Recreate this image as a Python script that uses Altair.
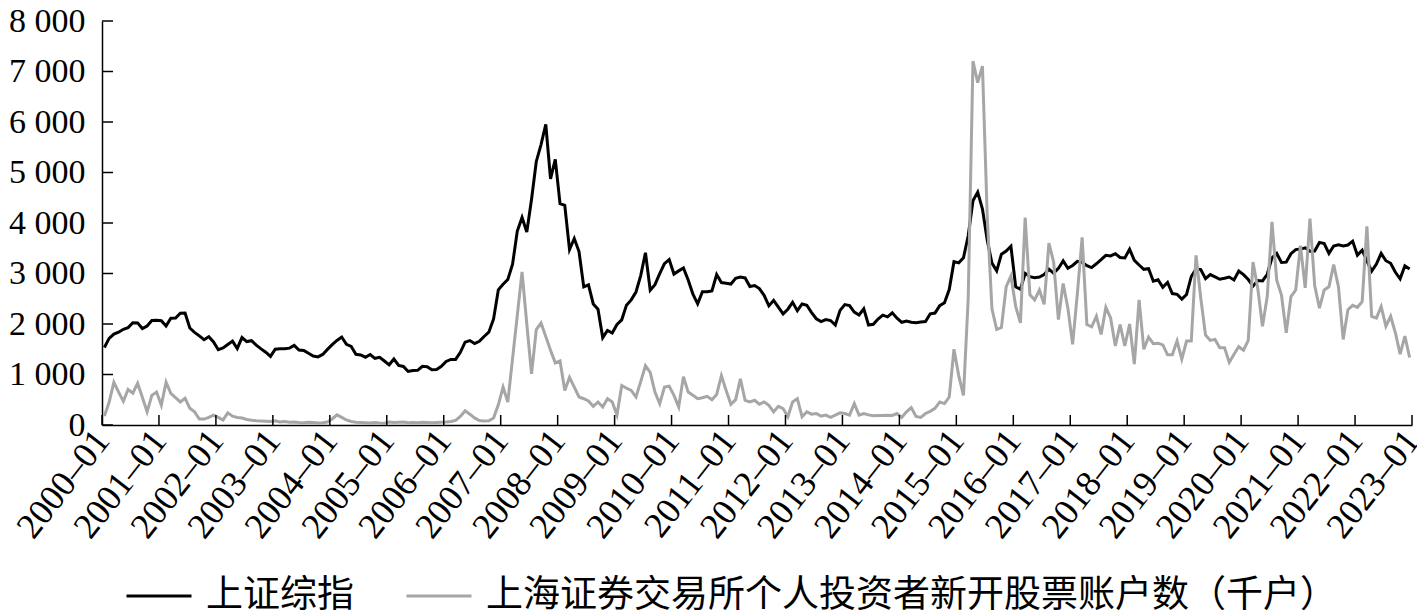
import altair as alt
import pandas as pd

# ---------------- data (monthly, 2000-01 .. 2022-12) ----------------
years = list(range(2000, 2023))
months = [f"{y}-{m:02d}" for y in years for m in range(1, 13)]

# 上证综指 (monthly close)
sse = [
    1535.0, 1714.6, 1800.2, 1836.3, 1894.5, 1928.1, 2023.5, 2021.7, 1910.2, 1961.3, 2070.6, 2073.5,
    2066.0, 1959.2, 2112.8, 2119.2, 2214.3, 2218.0, 1920.3, 1834.1, 1764.5, 1689.9, 1747.1, 1646.0,
    1491.6, 1524.7, 1593.4, 1661.9, 1515.7, 1732.8, 1651.6, 1669.6, 1581.7, 1507.5, 1441.6, 1357.7,
    1499.8, 1511.9, 1510.6, 1521.4, 1576.3, 1486.0, 1476.7, 1421.0, 1367.2, 1348.3, 1397.2, 1497.0,
    1590.7, 1675.1, 1741.6, 1595.6, 1555.9, 1399.2, 1386.2, 1342.1, 1396.7, 1320.5, 1340.8, 1266.5,
    1191.8, 1306.0, 1181.2, 1159.2, 1060.7, 1080.9, 1083.0, 1162.8, 1155.6, 1092.8, 1099.3, 1161.1,
    1258.0, 1299.0, 1298.3, 1440.2, 1641.3, 1672.2, 1612.7, 1658.6, 1752.4, 1837.9, 2099.3, 2675.5,
    2786.3, 2881.1, 3184.0, 3841.3, 4109.7, 3820.7, 4471.0, 5218.8, 5552.3, 5954.8, 4871.8, 5261.6,
    4383.4, 4348.5, 3472.7, 3693.1, 3433.4, 2736.1, 2775.7, 2397.4, 2293.8, 1728.8, 1871.2, 1820.8,
    1990.7, 2082.9, 2373.2, 2477.6, 2632.9, 2959.4, 3412.1, 2667.7, 2779.4, 2995.9, 3195.3, 3277.1,
    2989.3, 3051.9, 3109.1, 2870.6, 2592.2, 2398.4, 2637.5, 2638.8, 2655.7, 2978.8, 2820.2, 2808.1,
    2790.7, 2905.1, 2928.1, 2911.5, 2743.5, 2762.1, 2701.7, 2567.3, 2359.2, 2468.3, 2333.4, 2199.4,
    2292.6, 2428.5, 2262.8, 2396.3, 2372.2, 2225.4, 2103.6, 2047.5, 2086.2, 2068.9, 1980.1, 2269.1,
    2385.4, 2365.6, 2236.6, 2177.9, 2300.6, 1979.2, 1993.8, 2098.4, 2174.7, 2141.6, 2220.5, 2116.0,
    2033.1, 2056.3, 2033.3, 2026.4, 2039.2, 2048.3, 2201.6, 2217.2, 2363.9, 2420.2, 2682.8, 3234.7,
    3210.4, 3310.3, 3747.9, 4441.7, 4611.7, 4277.2, 3663.7, 3206.0, 3052.8, 3382.6, 3445.4, 3539.2,
    2737.6, 2688.0, 3003.9, 2938.3, 2916.6, 2929.6, 2979.3, 3085.5, 3004.7, 3100.5, 3250.0, 3103.6,
    3159.2, 3241.7, 3222.5, 3154.7, 3117.2, 3192.4, 3273.0, 3360.8, 3348.9, 3393.3, 3317.2, 3307.2,
    3480.8, 3259.4, 3168.9, 3082.2, 3095.5, 2847.4, 2876.4, 2725.3, 2821.4, 2602.8, 2588.2, 2493.9,
    2584.6, 2940.9, 3090.8, 3078.3, 2898.7, 2979.0, 2932.5, 2886.2, 2905.2, 2929.1, 2872.0, 3050.1,
    2976.5, 2880.3, 2750.3, 2860.1, 2852.4, 2984.7, 3310.0, 3395.7, 3218.1, 3224.5, 3391.8, 3473.1,
    3483.1, 3509.1, 3441.9, 3446.9, 3615.5, 3591.2, 3397.4, 3544.0, 3568.2, 3547.3, 3563.9, 3639.8,
    3361.4, 3462.3, 3252.2, 3047.1, 3186.4, 3398.6, 3253.2, 3202.1, 3024.4, 2893.5, 3151.3, 3089.3,
]

# 上海证券交易所个人投资者新开股票账户数（千户）
accounts = [
    176, 450, 847, 650, 470, 704, 632, 828, 550, 261, 587, 652,
    391, 847, 626, 540, 456, 528, 332, 261, 117, 117, 150, 196,
    150, 98, 241, 176, 150, 137, 110, 95, 85, 80, 75, 70,
    85, 60, 70, 55, 60, 50, 45, 55, 50, 40, 45, 60,
    120, 200, 150, 100, 70, 55, 50, 45, 40, 50, 40, 35,
    60, 50, 55, 60, 45, 50, 45, 55, 50, 45, 50, 55,
    60, 70, 90, 170, 280, 215, 140, 90, 80, 85, 140, 400,
    750, 456, 1315, 2175, 3032, 2000, 1011, 1891, 2021, 1750, 1480, 1230,
    1271, 684, 945, 750, 554, 520, 476, 371, 456, 358, 522, 456,
    196, 782, 730, 684, 554, 860, 1174, 1043, 652, 424, 750, 769,
    587, 358, 958, 652, 587, 522, 540, 567, 502, 606, 978, 684,
    411, 502, 913, 489, 456, 489, 411, 456, 391, 261, 370, 326,
    163, 456, 522, 163, 261, 215, 228, 176, 196, 150, 196, 241,
    228, 196, 424, 196, 228, 200, 183, 190, 190, 195, 190, 228,
    150, 261, 346, 170, 150, 228, 270, 330, 456, 424, 554, 1500,
    978, 587, 2510, 7204, 6781, 7107, 4150, 2300, 1891, 1930, 2738, 2950,
    2350, 2021, 4108, 2576, 2478, 2673, 2390, 3600, 3227, 2087, 2803, 2314,
    1598, 2608, 3716, 1989, 1945, 2152, 1793, 2328, 2119, 1565, 1989, 1565,
    2000, 1206, 2478, 1500, 1741, 1610, 1620, 1585, 1389, 1389, 1663, 1304,
    1663, 1663, 3358, 2510, 1780, 1675, 1695, 1532, 1532, 1239, 1402, 1550,
    1480, 1675, 3227, 2706, 1956, 2543, 4023, 2868, 2575, 1826, 2543, 2673,
    3553, 2715, 4088, 2760, 2314, 2673, 2738, 3175, 2738, 1695, 2282, 2370,
    2330, 2440, 3932, 2152, 2119, 2347, 1956, 2152, 1826, 1402, 1760, 1336,
]

series_names = ["上证综指", "上海证券交易所个人投资者新开股票账户数（千户）"]
series_colors = ["#000000", "#a6a6a6"]
y_ticks = [0, 1000, 2000, 3000, 4000, 5000, 6000, 7000, 8000]
x_tick_labels = [f"{y}–01" for y in range(2000, 2024)]

# ---------------- tables ----------------
n = len(months)
t = [i + 0.5 for i in range(n)]  # mid-month position in month units from 2000-01
df = pd.DataFrame({
    "month": months * 2,
    "t": t * 2,
    "value": sse + accounts,
    "series": [series_names[0]] * n + [series_names[1]] * n,
})
xt = pd.DataFrame({"t": [12 * k for k in range(len(x_tick_labels))], "label": x_tick_labels})
yt = pd.DataFrame({"v": y_ticks})

W, H = 1310, 404
SERIF = "Liberation Serif"

xscale = alt.Scale(domain=[0, 12 * (len(x_tick_labels) - 1)], nice=False, zero=False)
yscale = alt.Scale(domain=[0, 8000], nice=False)
cscale = alt.Scale(domain=series_names, range=series_colors)

x_axis = alt.Axis(
    values=list(xt["t"]),
    labelExpr="(2000 + round(datum.value / 12)) + '–01'",
    labelAngle=-52, labelAlign="right", labelBaseline="middle",
    labelFont=SERIF, labelFontSize=36, labelColor="#000000",
    labelPadding=9, labelOverlap=False, labelFlush=False,
    ticks=False, grid=False, domainColor="#000000", domainWidth=1.5, title=None,
)
y_axis = alt.Axis(
    values=y_ticks,
    labelExpr="replace(format(datum.value, ','), ',', ' ')",
    labelFont=SERIF, labelFontSize=34, labelColor="#000000",
    labelPadding=17, ticks=False, grid=False,
    domainColor="#000000", domainWidth=1.5, title=None,
)
legend = alt.Legend(
    orient="none", legendX=23, legendY=541, direction="horizontal", title=None,
    symbolType="stroke", symbolSize=4225, symbolStrokeWidth=3,
    labelFont="Noto Sans CJK SC", labelFontSize=37, labelColor="#000000",
    labelLimit=2000, labelOffset=13, columnPadding=46, padding=0,
)

def line_layer(name):
    return alt.Chart(df).transform_filter(
        alt.datum.series == name
    ).mark_line(strokeWidth=3).encode(
        x=alt.X("t:Q", scale=xscale, axis=x_axis),
        y=alt.Y("value:Q", scale=yscale, axis=y_axis),
        color=alt.Color("series:N", scale=cscale, legend=legend),
        detail="series:N",
    )

black_line = line_layer(series_names[0])
gray_line = line_layer(series_names[1])

ytick_layer = alt.Chart(yt).mark_rule(color="#000000", strokeWidth=1.5).encode(
    y=alt.Y("v:Q", scale=yscale, axis=y_axis),
    x=alt.value(0), x2=alt.value(11),
)
xtick_layer = alt.Chart(xt).mark_rule(color="#000000", strokeWidth=1.5).encode(
    x=alt.X("t:Q", scale=xscale, axis=x_axis),
    y=alt.value(H), y2=alt.value(H - 10),
)

chart = alt.layer(black_line, gray_line, ytick_layer, xtick_layer).properties(
    width=W, height=H,
    autosize=alt.AutoSizeParams(type="none"),
    padding={"left": 94, "top": 13, "right": 5, "bottom": 189},
).configure_view(stroke=None)

chart.save("out.html", embed_options={"renderer": "svg", "actions": False})
